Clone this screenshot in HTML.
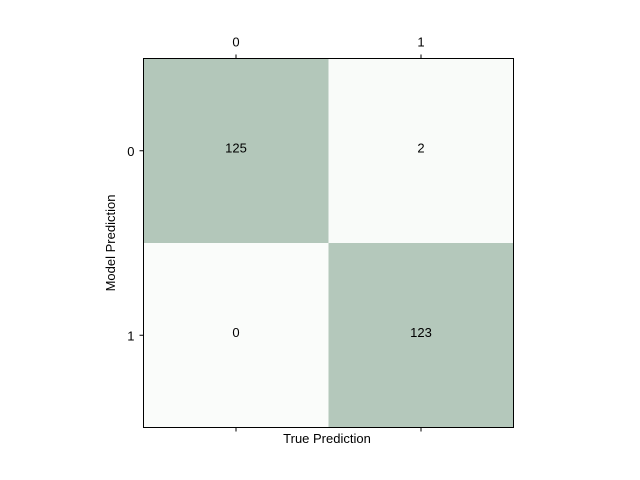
<!DOCTYPE html>
<html><head><meta charset="utf-8"><style>
body{margin:0;background:#fff;}
svg{display:block;font-family:"Liberation Sans","DejaVu Sans",sans-serif;}
</style></head><body>
<svg id="chart" width="640" height="480">
<g id="cells"></g>
<rect x="143.5" y="58.5" width="370" height="369" fill="none" stroke="#000" stroke-width="1"/>
<g id="ticks"></g>
<text x="327" y="443" font-size="13" text-anchor="middle">True Prediction</text>
<text transform="translate(115,243) rotate(-90)" font-size="13" text-anchor="middle">Model Prediction</text>
</svg>
<script>
const rowLabels = ["0","1"];
const colLabels = ["0","1"];
const values = [[125,2],[0,123]];
const L=143.5,T=58.5,W=370,H=369;
const ns="http://www.w3.org/2000/svg";
const nR=rowLabels.length,nC=colLabels.length;
const cw=W/nC,ch=H/nR;
let mn=Infinity,mx=-Infinity;
values.forEach(r=>r.forEach(v=>{mn=Math.min(mn,v);mx=Math.max(mx,v);}));
const lo=[250,252,250],hi=[179,199,186];
function col(v){const t=(v-mn)/(mx-mn||1);return "rgb("+lo.map((c,i)=>Math.round(c+(hi[i]-c)*t)).join(",")+")";}
const cells=document.getElementById("cells"),ticks=document.getElementById("ticks");
values.forEach((r,i)=>r.forEach((v,j)=>{
  const rc=document.createElementNS(ns,"rect");
  rc.setAttribute("x",L+j*cw);rc.setAttribute("y",T+i*ch);
  rc.setAttribute("width",cw+0.5);rc.setAttribute("height",ch+0.5);
  rc.setAttribute("fill",col(v));
  
  
  cells.appendChild(rc);
  const tx=document.createElementNS(ns,"text");
  tx.setAttribute("x",L+(j+0.5)*cw);tx.setAttribute("y",T+(i+0.5)*ch+1.5);
  tx.setAttribute("font-size","13");tx.setAttribute("text-anchor","middle");
  tx.textContent=v;
  
  
  cells.appendChild(tx);
}));
colLabels.forEach((lab,j)=>{
  const x=L+(j+0.5)*cw;
  [[T,T-4],[T+H,T+H+4]].forEach(([a,b])=>{
    const ln=document.createElementNS(ns,"line");
    ln.setAttribute("x1",x);ln.setAttribute("x2",x);ln.setAttribute("y1",a);ln.setAttribute("y2",b);
    ln.setAttribute("stroke","#000");
    
    
    ticks.appendChild(ln);
  });
  const t=document.createElementNS(ns,"text");
  t.setAttribute("x",x);t.setAttribute("y",T-12);t.setAttribute("font-size","13");t.setAttribute("text-anchor","middle");
  t.textContent=lab;
  
  
  ticks.appendChild(t);
});
rowLabels.forEach((lab,i)=>{
  const y=T+(i+0.5)*ch;
  const ln=document.createElementNS(ns,"line");
  ln.setAttribute("x1",L-4);ln.setAttribute("x2",L);ln.setAttribute("y1",y);ln.setAttribute("y2",y);
  ln.setAttribute("stroke","#000");
  
  
  ticks.appendChild(ln);
  const t=document.createElementNS(ns,"text");
  t.setAttribute("x",L-9);t.setAttribute("y",y+5);t.setAttribute("font-size","13");t.setAttribute("text-anchor","end");
  t.textContent=lab;
  
  
  ticks.appendChild(t);
});
</script>
</body></html>
